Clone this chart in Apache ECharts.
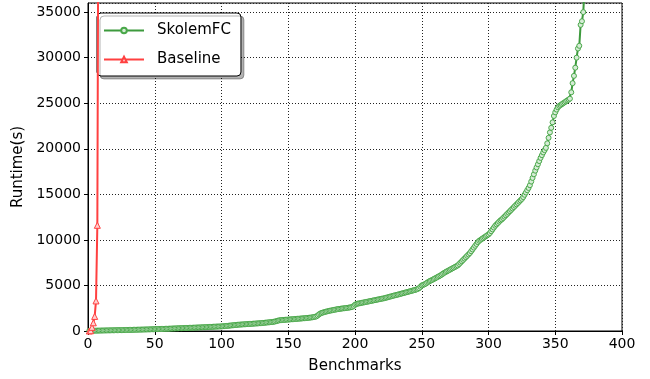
<!DOCTYPE html>
<html>
<head>
<meta charset="utf-8">
<script src="https://cdn.jsdelivr.net/npm/echarts@6/dist/echarts.min.js"></script>
<style>
  html, body { margin: 0; padding: 0; background: #fff; }
  #chart { width: 650px; height: 379px; }
</style>
</head>
<body>
<div id="chart"></div>
<script>
// runtime (s) of each benchmark, sorted, benchmark index = position + 1
var skolemfcRuntime = [
  20, 24, 28, 31, 35, 38, 42, 45, 48, 52,
  55, 58, 61, 64, 67, 70, 73, 76, 79, 82,
  85, 88, 91, 94, 97, 100, 104, 108, 112, 116,
  120, 124, 128, 132, 136, 140, 144, 148, 152, 156,
  160, 164, 168, 172, 176, 180, 185, 190, 195, 200,
  205, 210, 215, 220, 225, 230, 235, 240, 246, 252,
  258, 264, 270, 276, 282, 288, 294, 300, 306, 312,
  318, 324, 330, 336, 342, 348, 354, 360, 366, 372,
  378, 384, 390, 396, 402, 408, 414, 420, 428, 436,
  444, 452, 460, 468, 476, 484, 490, 495, 500, 505,
  515, 530, 545, 560, 575, 590, 605, 620, 635, 650,
  665, 680, 695, 705, 715, 725, 735, 745, 755, 765,
  775, 785, 795, 805, 815, 825, 835, 845, 858, 870,
  885, 900, 915, 930, 945, 960, 975, 990, 1010, 1040,
  1080, 1120, 1160, 1190, 1200, 1210, 1220, 1232, 1244, 1256,
  1268, 1280, 1292, 1304, 1316, 1328, 1340, 1352, 1364, 1376,
  1390, 1404, 1418, 1432, 1446, 1460, 1480, 1500, 1530, 1560,
  1600, 1700, 1820, 1920, 1980, 2030, 2070, 2110, 2150, 2190,
  2220, 2250, 2280, 2310, 2340, 2370, 2400, 2420, 2440, 2460,
  2480, 2500, 2520, 2540, 2560, 2580, 2610, 2650, 2750, 2880,
  2960, 3000, 3030, 3060, 3090, 3120, 3150, 3180, 3210, 3240,
  3270, 3300, 3330, 3360, 3390, 3420, 3450, 3480, 3510, 3540,
  3570, 3600, 3640, 3680, 3720, 3760, 3800, 3840, 3880, 3920,
  3950, 3990, 4030, 4070, 4110, 4150, 4190, 4230, 4270, 4310,
  4350, 4390, 4430, 4470, 4510, 4560, 4620, 4700, 4850, 5000,
  5060, 5120, 5200, 5300, 5400, 5480, 5550, 5620, 5700, 5780,
  5860, 5940, 6020, 6100, 6200, 6300, 6400, 6480, 6560, 6640,
  6720, 6800, 6880, 6960, 7040, 7120, 7200, 7350, 7500, 7650,
  7800, 7950, 8100, 8250, 8400, 8550, 8750, 8950, 9150, 9350,
  9550, 9750, 9900, 10000, 10100, 10200, 10300, 10400, 10500, 10600,
  10750, 10950, 11150, 11350, 11550, 11700, 11850, 12000, 12150, 12250,
  12400, 12550, 12700, 12850, 13000, 13150, 13300, 13450, 13600, 13750,
  13900, 14050, 14200, 14350, 14500, 14700, 14950, 15200, 15450, 15700,
  16000, 16400, 16800, 17200, 17600, 17950, 18300, 18650, 19000, 19300,
  19600, 19850, 20100, 20600, 21200, 21800, 22300, 22900, 23600, 24000,
  24300, 24550, 24700, 24800, 24900, 25000, 25100, 25200, 25300, 25400,
  25500, 26200, 27200, 28000, 28900, 30000, 31000, 31300, 33600, 34000,
  35000, 38000
];
var baselineRuntime = [0, 30, 400, 900, 1600, 3300, 11600, 60000];

var xTicks = { min: 0, max: 400, interval: 50 };
var yTicks = { min: 0, max: 36000, interval: 5000 };

function toPoints(arr) {
  return arr.map(function (v, i) { return [i + 1, v]; });
}

var FONT = "DejaVu Sans";
var green = "#3d9a3d";
var red = "#ff4040";

var myChart = echarts.init(document.getElementById("chart"), null, { renderer: "canvas" });

var option = {
  animation: false,
  backgroundColor: "#fff",
  textStyle: { fontFamily: FONT },
  grid: {
    left: 88, right: 28, top: 3, bottom: 48,
    show: true, borderColor: "#000", borderWidth: 1
  },
  legend: {
    left: 97, top: 13,
    orient: "vertical",
    itemWidth: 40, itemHeight: 7, itemGap: 14,
    padding: [10, 10, 9, 6],
    backgroundColor: "#fff",
    borderColor: "#000", borderWidth: 1, borderRadius: 4,
    shadowColor: "rgba(0,0,0,0.3)", shadowOffsetX: 3, shadowOffsetY: 3, shadowBlur: 0,
    textStyle: { fontFamily: FONT, fontSize: 15, color: "#000", padding: [0, 0, 0, 8] },
    data: ["SkolemFC", "Baseline"]
  },
  xAxis: {
    type: "value",
    min: xTicks.min, max: xTicks.max, interval: xTicks.interval,
    name: "Benchmarks", nameLocation: "middle", nameGap: 28,
    nameTextStyle: { fontFamily: FONT, fontSize: 15, color: "#000" },
    axisLine: { show: true, onZero: false, lineStyle: { color: "#000", width: 1 } },
    axisTick: { show: true, length: 4, lineStyle: { color: "#000" } },
    axisLabel: { color: "#000", fontSize: 14, fontFamily: FONT, margin: 6 },
    splitLine: { show: true, lineStyle: { color: "#222", type: [1, 2], width: 1 } }
  },
  yAxis: {
    type: "value",
    min: yTicks.min, max: yTicks.max, interval: yTicks.interval,
    name: "Runtime(s)", nameLocation: "middle", nameGap: 56,
    nameTextStyle: { fontFamily: FONT, fontSize: 15, color: "#000" },
    axisLine: { show: true, lineStyle: { color: "#000", width: 1 } },
    axisTick: { show: true, length: 4, lineStyle: { color: "#000" } },
    axisLabel: {
      color: "#000", fontSize: 14, fontFamily: FONT, margin: 7, showMaxLabel: false,
      formatter: function (v) { return String(v); }
    },
    splitLine: { show: true, lineStyle: { color: "#222", type: [1, 2], width: 1 } }
  },
  series: [
    {
      name: "SkolemFC",
      type: "line",
      data: toPoints(skolemfcRuntime),
      symbol: "circle",
      symbolSize: 5,
      showAllSymbol: true,
      lineStyle: { color: green, width: 2 },
      itemStyle: { color: "#d6ecd6", borderColor: "#4aa84a", borderWidth: 1 },
      z: 3
    },
    {
      name: "Baseline",
      type: "line",
      data: toPoints(baselineRuntime),
      symbol: "triangle",
      symbolSize: 6,
      showAllSymbol: true,
      lineStyle: { color: red, width: 2 },
      itemStyle: { color: "#ffd0d0", borderColor: red, borderWidth: 1 },
      z: 4
    }
  ]
};

myChart.setOption(option, true);
</script>
</body>
</html>
